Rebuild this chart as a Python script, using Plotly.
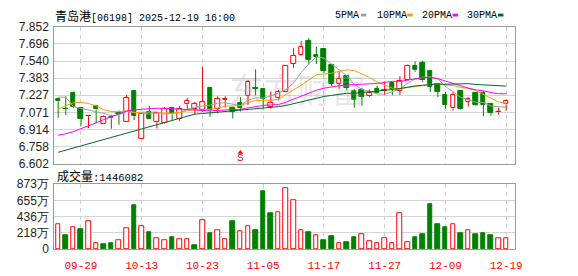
import plotly.graph_objects as go

# ---------------- data ----------------
dates = ["09-24","09-25","09-26","09-29","09-30","10-02","10-03","10-06","10-08","10-09",
         "10-10","10-13","10-14","10-15","10-16","10-17","10-20","10-21","10-22","10-23",
         "10-24","10-27","10-28","10-30","10-31","11-03","11-04","11-05","11-06","11-07",
         "11-10","11-11","11-12","11-13","11-14","11-17","11-18","11-19","11-20","11-21",
         "11-24","11-25","11-26","11-27","11-28","12-01","12-02","12-03","12-04","12-05",
         "12-08","12-09","12-10","12-11","12-12","12-15","12-16","12-17","12-18","12-19"]

opens = [7.192,7.105,7.253,7.114,7.036,7.131,6.964,7.027,7.066,6.987,
         7.268,6.828,7.071,6.980,6.971,7.114,7.010,7.145,7.103,7.094,
         7.296,7.101,7.188,7.114,7.157,7.224,7.292,7.288,7.123,7.201,
         7.262,7.513,7.592,7.726,7.600,7.648,7.505,7.334,7.401,7.270,
         7.273,7.218,7.282,7.270,7.340,7.270,7.368,7.499,7.526,7.453,
         7.331,7.230,7.108,7.268,7.166,7.244,7.253,7.151,7.071,7.145]
highs = [7.200,7.218,7.260,7.120,7.040,7.135,7.042,7.050,7.088,7.230,
         7.268,7.053,7.131,7.070,7.119,7.120,7.131,7.205,7.166,7.490,
         7.296,7.218,7.218,7.123,7.210,7.366,7.464,7.290,7.262,7.275,
         7.500,7.661,7.724,7.750,7.670,7.650,7.513,7.444,7.409,7.282,
         7.296,7.279,7.314,7.355,7.349,7.401,7.507,7.537,7.542,7.455,
         7.335,7.257,7.257,7.270,7.210,7.253,7.266,7.155,7.114,7.188]
lows = [7.021,7.045,7.110,6.949,6.927,6.975,6.964,6.921,6.958,6.987,
        7.001,6.828,7.010,6.923,6.965,6.993,6.993,7.101,7.051,7.075,
        7.030,7.062,7.114,7.014,7.079,7.140,7.227,7.105,7.105,7.179,
        7.255,7.479,7.585,7.505,7.513,7.431,7.311,7.288,7.270,7.114,
        7.131,7.210,7.244,7.227,7.227,7.230,7.368,7.441,7.348,7.257,
        7.210,7.103,7.088,7.097,7.123,7.131,7.036,7.040,7.051,7.088]
closes = [7.172,7.100,7.123,7.013,7.040,7.099,7.032,7.016,7.053,7.201,
          7.036,7.053,7.014,7.065,7.103,7.053,7.101,7.179,7.146,7.166,
          7.094,7.192,7.192,7.075,7.110,7.351,7.288,7.192,7.157,7.259,
          7.499,7.589,7.670,7.551,7.579,7.448,7.331,7.375,7.296,7.184,
          7.216,7.245,7.253,7.279,7.288,7.357,7.499,7.455,7.363,7.305,
          7.262,7.143,7.227,7.105,7.197,7.140,7.138,7.065,7.075,7.171]
prev_close_before_first = 7.150

ma5 = [7.210,7.210,7.123,7.108,7.090,7.076,7.061,7.040,7.048,7.080,
       7.068,7.072,7.071,7.074,7.054,7.058,7.067,7.100,7.116,7.129,
       7.137,7.155,7.158,7.144,7.133,7.184,7.203,7.203,7.220,7.249,
       7.279,7.339,7.435,7.514,7.578,7.567,7.516,7.457,7.406,7.327,
       7.280,7.264,7.239,7.236,7.257,7.285,7.335,7.376,7.392,7.396,
       7.377,7.306,7.260,7.208,7.187,7.162,7.161,7.129,7.123,7.118]
ma10 = [7.097,7.133,7.158,7.162,7.152,7.130,7.095,7.078,7.077,7.085,
        7.072,7.067,7.056,7.061,7.067,7.063,7.070,7.086,7.095,7.092,
        7.098,7.111,7.129,7.130,7.131,7.161,7.179,7.181,7.182,7.191,
        7.232,7.271,7.319,7.367,7.414,7.423,7.428,7.446,7.460,7.453,
        7.424,7.390,7.348,7.321,7.292,7.282,7.299,7.307,7.314,7.326,
        7.331,7.319,7.316,7.298,7.290,7.270,7.234,7.195,7.166,7.153]
ma20 = [6.862,6.875,6.895,6.920,6.945,6.975,7.005,7.030,7.058,7.082,
        7.094,7.099,7.106,7.108,7.108,7.104,7.100,7.095,7.090,7.089,
        7.085,7.089,7.093,7.096,7.099,7.112,7.125,7.134,7.139,7.142,
        7.165,7.191,7.224,7.249,7.273,7.292,7.304,7.314,7.321,7.322,
        7.328,7.332,7.335,7.345,7.354,7.354,7.365,7.378,7.388,7.391,
        7.379,7.357,7.334,7.312,7.293,7.277,7.268,7.252,7.241,7.241]
ma30 = [6.706,6.725,6.745,6.764,6.784,6.803,6.822,6.842,6.861,6.881,
        6.900,6.919,6.939,6.958,6.978,6.997,7.016,7.036,7.055,7.060,
        7.066,7.072,7.077,7.082,7.088,7.095,7.101,7.108,7.115,7.123,
        7.134,7.150,7.168,7.186,7.204,7.216,7.226,7.238,7.246,7.245,
        7.251,7.258,7.266,7.273,7.280,7.289,7.303,7.312,7.319,7.324,
        7.330,7.328,7.329,7.330,7.333,7.326,7.321,7.317,7.314,7.311]

# volume in 万 shares
volumes = [328,183,290,268,380,85,64,77,119,277,
           588,307,230,150,124,166,137,137,51,392,
           217,251,137,371,239,307,256,780,486,494,
           814,652,251,230,192,115,179,85,89,166,
           204,111,77,150,85,482,98,166,196,601,
           332,294,328,217,251,196,217,183,150,144.6082]

x_tick_labels = ["09-29","10-13","10-23","11-05","11-17","11-27","12-09","12-19"]
price_ticks = [7.852,7.696,7.540,7.383,7.227,7.071,6.914,6.758,6.602]
price_tick_text = ["7.852","7.696","7.540","7.383","7.227","7.071","6.914","6.758","6.602"]
vol_ticks = [0,218.25,436.5,654.75,873]
vol_tick_text = ["0","218万","436万","655万","873万"]
signal_date = "10-31"
title_name = "青岛港[06198]"
title_time = "2025-12-19 16:00"
last_volume_text = "1446082"

# ---------------- styles ----------------
RED = "#ff0000"
GREEN = "#008000"
W, H = 578, 276
FONT_NUM = "Liberation Sans, Arial, sans-serif"
FONT_MONO = "Liberation Mono, DejaVu Sans Mono, monospace"
FONT_CJK = "Noto Sans CJK SC, sans-serif"

n = len(dates)
xs = list(range(n))

fig = go.Figure()

# candle bodies
body_base, body_h, body_fill, body_line = [], [], [], []
for o, c in zip(opens, closes):
    lo, hi = min(o, c), max(o, c)
    h = max(hi - lo, 0.002)
    body_base.append(lo)
    body_h.append(h)
    up = c >= o
    body_fill.append("white" if up else GREEN)
    body_line.append(RED if up else GREEN)
fig.add_trace(go.Bar(x=xs, y=body_h, base=body_base, width=0.6,
                     marker=dict(color=body_fill, line=dict(color=body_line, width=1)),
                     xaxis="x", yaxis="y", hoverinfo="skip", showlegend=False))

# volume bars (colour by close vs previous close)
vfill, vline = [], []
prev = prev_close_before_first
for c in closes:
    up = c >= prev
    vfill.append("white" if up else GREEN)
    vline.append(RED if up else GREEN)
    prev = c
fig.add_trace(go.Bar(x=xs, y=volumes, width=0.6,
                     marker=dict(color=vfill, line=dict(color=vline, width=1)),
                     xaxis="x2", yaxis="y2", hoverinfo="skip", showlegend=False))

# watermark (real text, faint)
fig.add_trace(go.Scatter(x=[31.5], y=[7.235], mode="text", text=["东方财富"],
                         textfont=dict(family=FONT_CJK, size=34, color="rgba(170,170,185,0.28)"),
                         xaxis="x", yaxis="y", hoverinfo="skip", showlegend=False))

# wicks
for want_up, col in ((True, RED), (False, GREEN)):
    wx, wy = [], []
    for i, (o, h, l, c) in enumerate(zip(opens, highs, lows, closes)):
        if (c >= o) != want_up:
            continue
        top, bot = max(o, c), min(o, c)
        if h > top:
            wx += [i, i, None]; wy += [top, h, None]
        if l < bot:
            wx += [i, i, None]; wy += [bot, l, None]
    fig.add_trace(go.Scatter(x=wx, y=wy, mode="lines", line=dict(color=col, width=1),
                             xaxis="x", yaxis="y", hoverinfo="skip", showlegend=False))

# moving averages
ma_styles = [(ma5, "#a0a0a0"), (ma10, "#f5a000"), (ma20, "#ff00ff"), (ma30, "#006a2e")]
for vals, col in ma_styles:
    fig.add_trace(go.Scatter(x=xs, y=vals, mode="lines", line=dict(color=col, width=1),
                             xaxis="x", yaxis="y", hoverinfo="skip", showlegend=False))

# signal marker
si = dates.index(signal_date)
fig.add_trace(go.Scatter(x=[si], y=[6.703], mode="markers",
                         marker=dict(symbol="triangle-up", size=5, color=RED),
                         xaxis="x", yaxis="y", hoverinfo="skip", showlegend=False))
fig.add_annotation(x=si, y=6.655, xref="x", yref="y", text="S", showarrow=False,
                   font=dict(family=FONT_MONO, size=11, color=RED))

tickvals = [dates.index(d) for d in x_tick_labels]

def px2x(p):
    return p / W

def px2y(p):
    return 1 - p / H

xdom = [px2x(55), px2x(522)]
xrange_ = [-0.52, 60.13]
common_x = dict(domain=xdom, range=xrange_, tickvals=tickvals, ticktext=x_tick_labels,
                showgrid=True, gridcolor="#cfcfcf", griddash="4px,4px", gridwidth=1,
                zeroline=False, showline=True, mirror=True, linecolor="#9a9a9a", linewidth=1,
                ticks="", fixedrange=True)
common_y = dict(showgrid=True, gridcolor="#d4d4d4", gridwidth=1, zeroline=False,
                showline=True, mirror=True, linecolor="#9a9a9a", linewidth=1, ticks="",
                tickfont=dict(family=FONT_NUM, size=12, color="#222222"), fixedrange=True,
                ticklabelstandoff=2)

fig.update_layout(
    width=W, height=H, margin=dict(l=0, r=0, t=0, b=0),
    paper_bgcolor="white", plot_bgcolor="white", showlegend=False, bargap=0,
    xaxis=dict(common_x, anchor="y", showticklabels=False),
    yaxis=dict(common_y, domain=[px2y(165), px2y(21)], range=[6.602, 7.852],
               tickvals=price_ticks, ticktext=price_tick_text),
    xaxis2=dict(common_x, anchor="y2", showticklabels=True, matches="x",
                tickfont=dict(family=FONT_MONO, size=11, color=RED), ticklabelstandoff=6),
    yaxis2=dict(common_y, domain=[px2y(255), px2y(186.7)], range=[0, 873],
                tickvals=vol_ticks, ticktext=vol_tick_text),
)

# title
fig.add_annotation(x=px2x(54), y=px2y(8.5), xref="paper", yref="paper", xanchor="left", yanchor="middle",
                   showarrow=False,
                   text=f'<span style="font-family:{FONT_CJK};font-size:12px">{title_name[:3]}</span>'
                        f'<span style="font-family:{FONT_MONO};font-size:10px">{title_name[3:]} {title_time}</span>',
                   font=dict(family=FONT_MONO, size=11, color="#000000"))
# volume title
fig.add_annotation(x=px2x(56), y=px2y(177), xref="paper", yref="paper", xanchor="left", yanchor="middle",
                   showarrow=False,
                   text=f'<span style="font-family:{FONT_CJK};font-size:12px">成交量</span>'
                        f'<span style="font-family:{FONT_MONO};font-size:10.5px">:{last_volume_text}</span>',
                   font=dict(family=FONT_MONO, size=11, color="#000000"))

# legend texts and swatches
legend_items = [("5PMA", 338, 366, "#a0a0a0"), ("10PMA", 380, 413, "#f5a000"),
                ("20PMA", 426, 459, "#ff00ff"), ("30PMA", 472, 505, "#006a2e")]
for label, tx, sx, col in legend_items:
    fig.add_annotation(x=px2x(tx), y=px2y(9), xref="paper", yref="paper", xanchor="left",
                       yanchor="middle", showarrow=False, text=label,
                       font=dict(family=FONT_MONO, size=10, color="#000000"))
    fig.add_shape(type="rect", xref="paper", yref="paper", x0=px2x(sx), x1=px2x(sx + 5.5),
                  y0=px2y(10), y1=px2y(7), fillcolor=col, line=dict(width=0))

fig.write_html("out.html", config={"displayModeBar": False})
